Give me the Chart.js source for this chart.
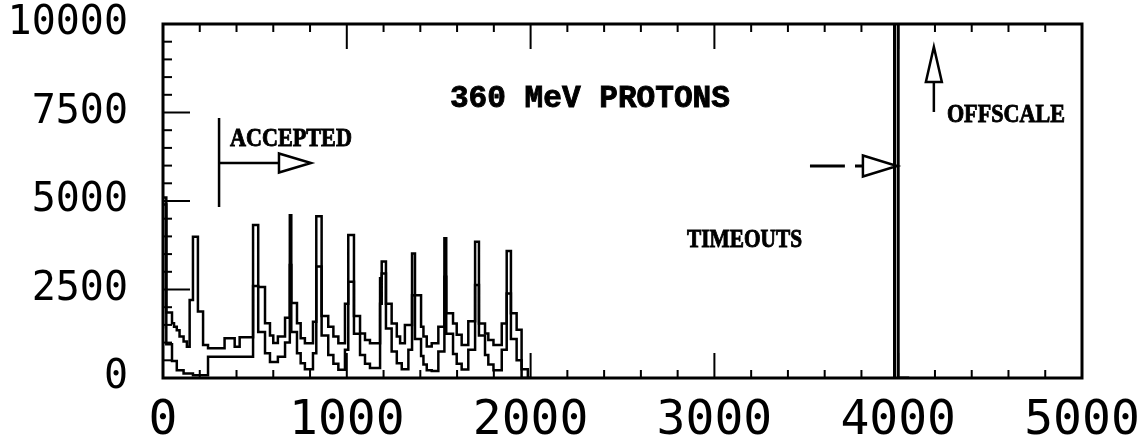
<!DOCTYPE html>
<html>
<head>
<meta charset="utf-8">
<script src="https://cdn.jsdelivr.net/npm/chart.js@4.4.0/dist/chart.umd.min.js"></script>
<style>
  html, body { margin: 0; padding: 0; background: #fff; }
</style>
</head>
<body>
<canvas id="histChart" width="1139" height="436"></canvas>
<script>
// bin start (channel) and counts; stepped histogram
const upperX = [0, 18, 49, 60, 75, 90, 112, 130, 145, 163, 190, 218, 245, 335, 390, 417, 490,
  518, 555, 582, 600, 625, 664, 690, 698, 729, 749, 772, 816, 834, 863, 899, 927, 954, 990,
  1008, 1039, 1072, 1099, 1126, 1181, 1190, 1213, 1244, 1272, 1290, 1316, 1355, 1371, 1404,
  1417, 1435, 1462, 1498, 1531, 1541, 1578, 1598, 1625, 1661, 1698, 1719, 1752, 1770, 1798,
  1843, 1870, 1893, 1924, 1951, 2005];
const upperY = [2000, 5100, 1850, 1550, 1450, 1350, 1170, 1030, 880, 2200, 3990, 1880, 930, 840, 1120, 880, 1150,
  4320, 2570, 1550, 1200, 990, 1170, 1700, 4600, 2120, 1550, 1120, 980, 1590, 4570, 1750, 1450, 1170, 980,
  2100, 4040, 1750, 1260, 1070, 980, 2820, 3290, 2100, 1540, 1170, 980, 1500, 3520, 2340,
  1450, 1170, 890, 980, 1450, 3950, 1830, 1540, 1220, 930, 1600, 3850, 1540, 1260, 1070,
  930, 1540, 3590, 1830, 1360, 0];

const lowerX = [0, 18, 49, 75, 112, 163, 245, 490, 518, 555, 582, 625, 664, 690, 698, 729, 749, 772,
  816, 834, 863, 899, 927, 954, 990, 1008, 1039, 1072, 1099, 1126, 1181, 1190, 1213, 1244, 1272,
  1299, 1335, 1355, 1371, 1404, 1417, 1435, 1462, 1498, 1531, 1541, 1578, 1598, 1625, 1661, 1698,
  1719, 1752, 1770, 1798, 1843, 1870, 1893, 1924, 1951, 1985, 2000];
const lowerY = [1400, 4900, 950, 480, 220, 130, 80, 600, 2600, 1300, 700, 450, 600, 1000, 3190, 1300, 700, 420,
  250, 700, 3150, 1200, 650, 400, 230, 800, 2720, 1250, 650, 400, 280, 2100, 2950, 1400, 750,
  420, 250, 800, 2340, 1100, 620, 380, 220, 200, 750, 2860, 1250, 680, 400, 240, 800,
  2630, 1200, 650, 380, 220, 800, 2390, 1100, 500, 250, 0];

// timeout channel, goes off scale
const timeoutX = [3980, 4000, 4045, 4060];
const timeoutY = [0, 20000, 0, 0];

const xTicks = [0, 1000, 2000, 3000, 4000, 5000];
const yTicks = [0, 2500, 5000, 7500, 10000];

// annotations (data coordinates)
const notes = [
  { text: '360 MeV PROTONS', x: 1561, y: 7656, font: 'bold 31px "Liberation Mono"', width: 280 },
  { text: 'ACCEPTED', x: 364, y: 6554, font: 'bold 25px "Liberation Serif"', width: 122 },
  { text: 'TIMEOUTS', x: 2851, y: 3701, font: 'bold 25px "Liberation Serif"', width: 115 },
  { text: 'OFFSCALE', x: 4265, y: 7232, font: 'bold 25px "Liberation Serif"', width: 118 }
];

const toPoints = (xs, ys) => xs.map((x, i) => ({ x: x, y: ys[i] }));

const histStyle = {
  stepped: 'after',
  borderColor: '#000',
  borderWidth: 2.5,
  pointRadius: 0,
  fill: false
};

// frame + inward ticks like the old plot package
const framePlugin = {
  id: 'frame',
  afterDatasetsDraw(chart) {
    const { ctx, chartArea: a, scales } = chart;
    const xs = scales.x, ys = scales.y;
    ctx.save();
    ctx.strokeStyle = '#000';
    ctx.lineWidth = 2;
    for (let v = 0; v <= 5000; v += 200) {
      const px = xs.getPixelForValue(v);
      const len = v % 1000 === 0 ? 25 : 8;
      ctx.beginPath();
      ctx.moveTo(px, a.bottom); ctx.lineTo(px, a.bottom - len);
      ctx.moveTo(px, a.top); ctx.lineTo(px, a.top + len);
      ctx.stroke();
    }
    for (let v = 0; v <= 10000; v += 500) {
      const py = ys.getPixelForValue(v);
      const len = v % 2500 === 0 ? 27 : 9;
      ctx.beginPath();
      ctx.moveTo(a.left, py); ctx.lineTo(a.left + len, py);
      ctx.stroke();
    }
    ctx.lineWidth = 3;
    ctx.strokeRect(a.left, a.top, a.right - a.left, a.bottom - a.top);
    ctx.restore();
  },
  afterDraw(chart) {
    const { ctx } = chart;
    const X = v => chart.scales.x.getPixelForValue(v);
    const Y = v => chart.scales.y.getPixelForValue(v);
    ctx.save();
    ctx.fillStyle = '#000';
    ctx.textBaseline = 'alphabetic';
    notes.forEach(n => {
      ctx.font = n.font;
      const w = ctx.measureText(n.text).width;
      ctx.save();
      ctx.translate(X(n.x), Y(n.y));
      ctx.scale(n.width / w, 1);
      ctx.fillText(n.text, 0, 0);
      ctx.strokeStyle = '#000';
      ctx.lineWidth = 0.9;
      ctx.strokeText(n.text, 0, 0);
      ctx.restore();
    });

    ctx.strokeStyle = '#000';
    ctx.lineWidth = 2.5;
    const tri = (pts) => {
      ctx.beginPath();
      ctx.moveTo(pts[0][0], pts[0][1]);
      ctx.lineTo(pts[1][0], pts[1][1]);
      ctx.lineTo(pts[2][0], pts[2][1]);
      ctx.closePath();
      ctx.fillStyle = '#fff';
      ctx.fill();
      ctx.stroke();
    };

    // ACCEPTED cut
    ctx.beginPath();
    ctx.moveTo(X(305), Y(4831)); ctx.lineTo(X(305), Y(7345));
    ctx.moveTo(X(305), Y(6074)); ctx.lineTo(X(631), Y(6074));
    ctx.stroke();
    tri([[X(631), Y(6074) - 9.5], [X(805), Y(6074)], [X(631), Y(6074) + 9.5]]);

    // TIMEOUTS arrow
    ctx.lineWidth = 3;
    ctx.beginPath();
    ctx.moveTo(X(3520), Y(5989)); ctx.lineTo(X(3710), Y(5989));
    ctx.moveTo(X(3765), Y(5989)); ctx.lineTo(X(3808), Y(5989));
    ctx.stroke();
    ctx.lineWidth = 2.5;
    tri([[X(3808), Y(5989) - 10.5], [X(3994), Y(5989)], [X(3808), Y(5989) + 10.5]]);

    // OFFSCALE arrow
    ctx.beginPath();
    ctx.moveTo(X(4194), Y(7515)); ctx.lineTo(X(4194), Y(8362));
    ctx.stroke();
    tri([[X(4194) - 8, Y(8362)], [X(4194), Y(9351)], [X(4194) + 8, Y(8362)]]);
    ctx.restore();
  }
};

const ctx = document.getElementById('histChart').getContext('2d');
new Chart(ctx, {
  type: 'line',
  data: {
    datasets: [
      Object.assign({ label: 'all', data: toPoints(upperX, upperY) }, histStyle),
      Object.assign({ label: 'accepted', data: toPoints(lowerX, lowerY) }, histStyle),
      Object.assign({ label: 'timeouts', data: toPoints(timeoutX, timeoutY) }, histStyle, { borderWidth: 3 })
    ]
  },
  options: {
    responsive: false,
    animation: false,
    devicePixelRatio: 1,
    layout: { padding: { top: 24, right: 57, left: 0, bottom: 0 } },
    plugins: { legend: { display: false }, tooltip: { enabled: false } },
    scales: {
      x: {
        type: 'linear',
        min: 0,
        max: 5000,
        afterBuildTicks: s => { s.ticks = xTicks.map(v => ({ value: v })); },
        afterFit: s => { s.height = 58; s.paddingLeft = 0; s.paddingRight = 0; },
        grid: { display: false, drawTicks: false },
        border: { display: false },
        ticks: {
          color: '#000',
          padding: 15,
          maxRotation: 0,
          autoSkip: false,
          font: { family: '"DejaVu Sans Mono"', size: 48 },
          callback: v => String(v)
        }
      },
      y: {
        type: 'linear',
        min: 0,
        max: 10000,
        afterBuildTicks: s => { s.ticks = yTicks.map(v => ({ value: v })); },
        afterFit: s => { s.width = 163; s.paddingTop = 0; s.paddingBottom = 0; },
        grid: { display: false, drawTicks: false },
        border: { display: false },
        ticks: {
          color: '#000',
          padding: 35,
          autoSkip: false,
          font: { family: '"DejaVu Sans Mono"', size: 40 },
          callback: v => String(v)
        }
      }
    }
  },
  plugins: [framePlugin]
});
</script>
</body>
</html>
